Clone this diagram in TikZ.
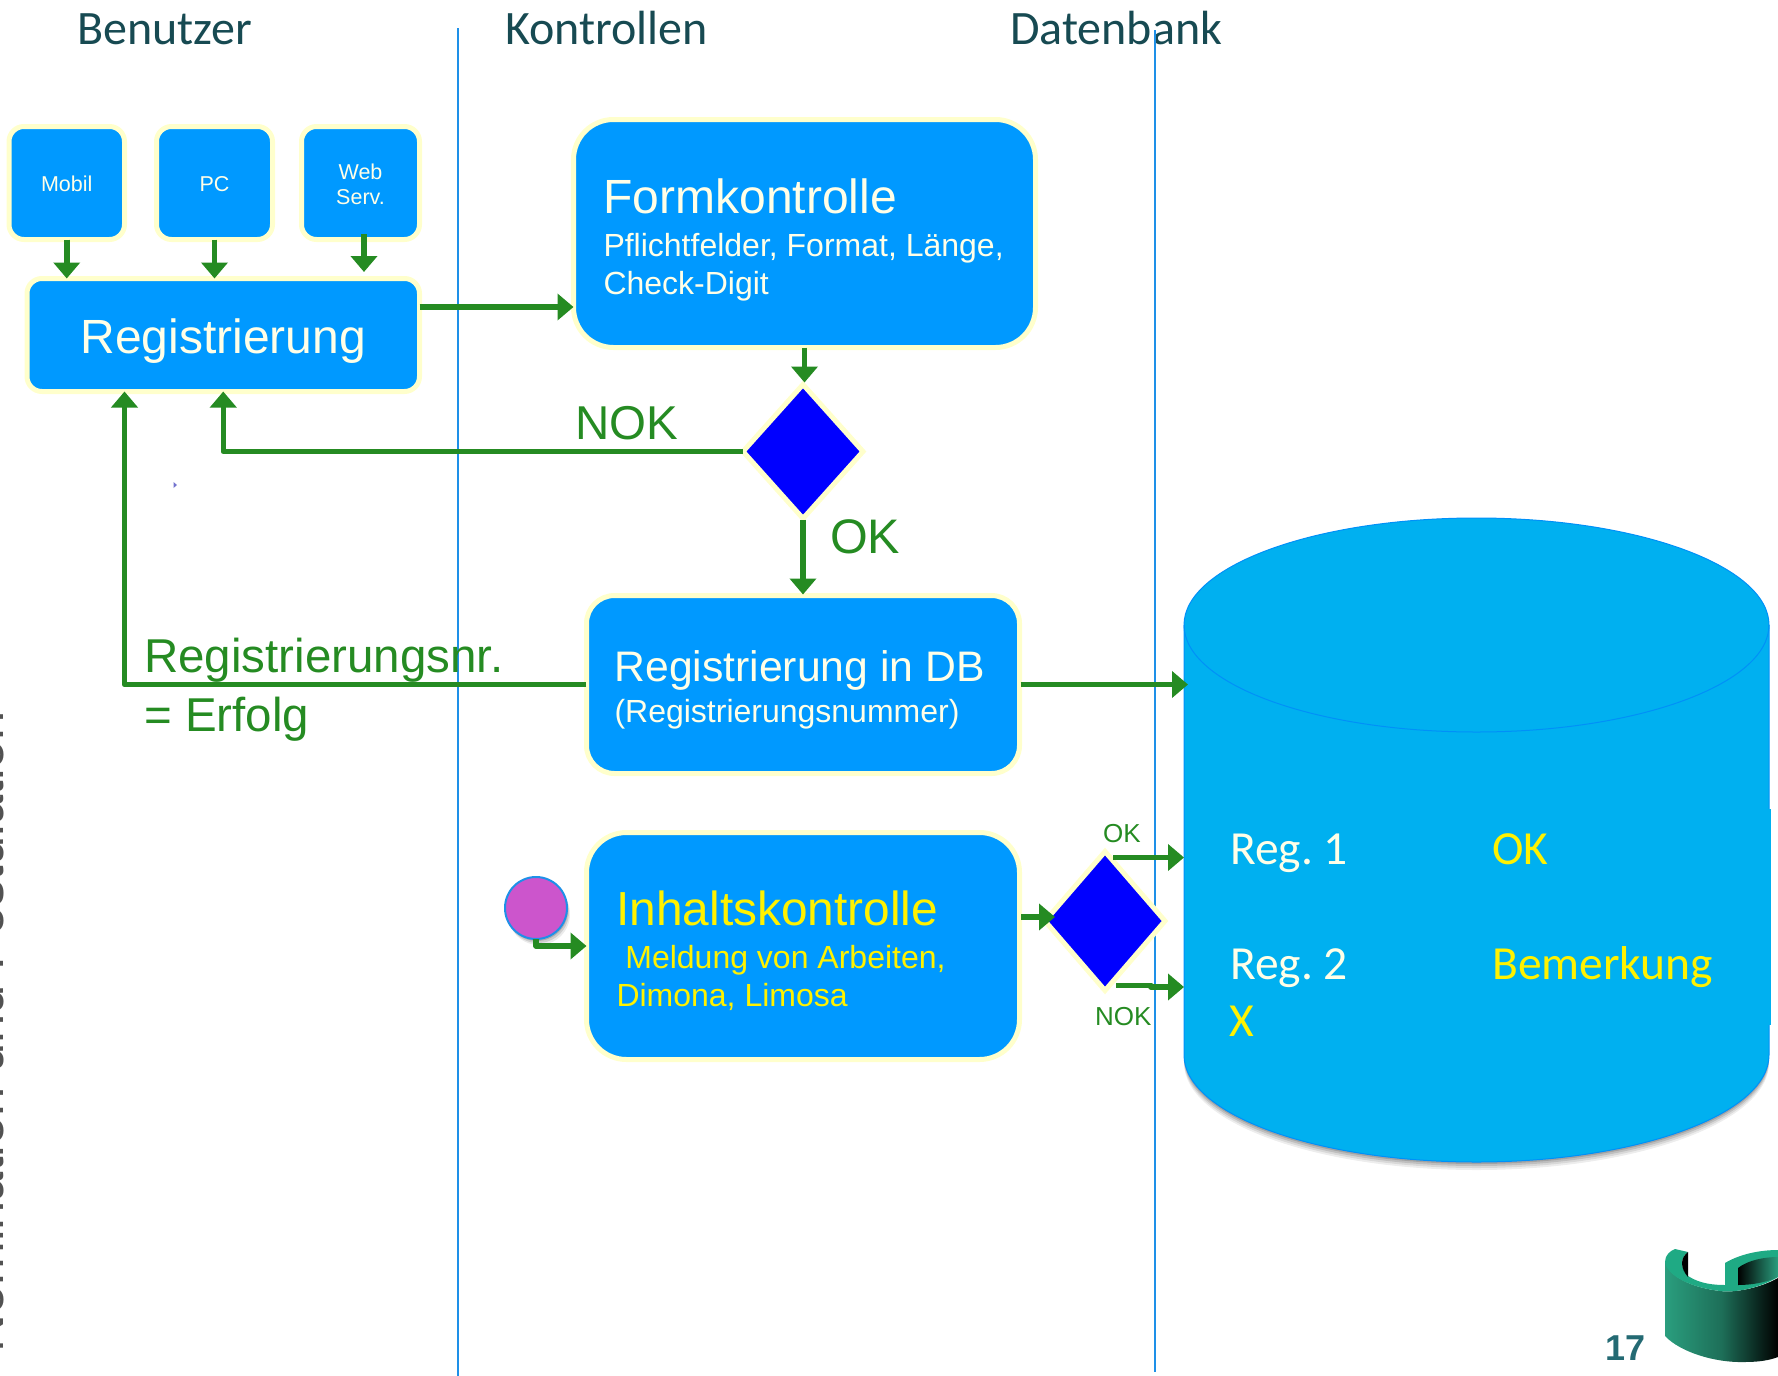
\documentclass[tikz,border=0pt]{standalone}
\usepackage{fontspec}
\setmainfont{Liberation Sans}
\newfontfamily\calib{Carlito}
\usetikzlibrary{arrows.meta,shapes.geometric}
\definecolor{boxblue}{HTML}{0099FF}
\definecolor{cream}{HTML}{FFFFCC}
\definecolor{softwhite}{HTML}{FFFFE8}
\definecolor{dbblue}{HTML}{00B0F0}
\definecolor{dbline}{HTML}{0090F8}
\definecolor{flow}{HTML}{258B22}
\definecolor{lane}{HTML}{1E90E8}
\definecolor{headteal}{HTML}{174A52}
\definecolor{pagenum}{HTML}{246A73}
\definecolor{dotfill}{HTML}{CC55CC}
\definecolor{logogreen}{HTML}{2A9E7E}
\definecolor{logolight}{HTML}{1FAA84}
\newcommand{\fs}[1]{\fontsize{#1}{#1}\selectfont\spaceskip=0pt\xspaceskip=0pt\frenchspacing}
\tikzset{
  bx/.style={rectangle,draw=cream,line width=5pt,fill=boxblue,inner sep=0pt,outer sep=0pt,text=softwhite,align=center},
  small box/.style={bx,rounded corners=15pt,minimum width=116pt,minimum height=113pt,font=\fs{21.5}},
  big box/.style={bx,align=left},
  decide/.style={diamond,draw=cream,line width=5pt,fill=blue,inner sep=0pt,outer sep=0pt},
  link/.style={draw=flow,line width=5.5pt,line join=round,-{Triangle[width=26pt,length=16pt]}},
  lane line/.style={draw=lane,line width=1.5pt},
  head/.style={anchor=base west,inner sep=0pt,font=\calib\fs{48},text=headteal},
  flowtext/.style={anchor=base west,inner sep=0pt,text=flow},
  dbtext/.style={anchor=base west,inner sep=0pt,font=\calib\fs{47.5}},
}
\begin{document}
\begin{tikzpicture}[x=1pt,y=-1pt]
\useasboundingbox (0,0) rectangle (1778,1376);
% rotated, cut-off side title
\node[rotate=90,anchor=base west,inner sep=0pt,text=black!68,font=\fs{52.5}] (sidetitle) at (3,1353) {Nomination und Postulation};
% swim lanes
\coordinate (laneAtop) at (458,28);
\coordinate (laneAbot) at (458,1376);
\coordinate (laneBtop) at (1155,30);
\coordinate (laneBbot) at (1155,1372);
\node[head] (hBen) at (77,44) {Benutzer};
\node[head] (hKon) at (505,44) {Kontrollen};
\node[head] (hDat) at (1010,44) {Datenbank};
\draw[lane line] (laneAtop) -- (laneAbot);
\draw[lane line] (laneBtop) -- (laneBbot);
% database cylinder
\node[minimum width=585pt,minimum height=645pt,inner sep=0pt,outer sep=0pt] (db) at (1476.5,840.5) {};
\foreach \o/\a in {8/0.07,6/0.09,4/0.12,2/0.15}
  \fill[black,opacity=\a] (1184,1055+\o) .. controls (1184,1114+\o) and (1315,1162+\o) .. (1476.5,1162+\o) .. controls (1638,1162+\o) and (1769,1114+\o) .. (1769,1055+\o) -- cycle;
\filldraw[draw=dbline,fill=dbblue,line width=1pt]
  (1184,625) .. controls (1184,566) and (1315,518) .. (1476.5,518) .. controls (1638,518) and (1769,566) .. (1769,625)
  -- (1769,1055) .. controls (1769,1114) and (1638,1162) .. (1476.5,1162) .. controls (1315,1162) and (1184,1114) .. (1184,1055) -- cycle;
\fill[dbblue] (1184.5,809) rectangle (1771,1025);
\draw[draw=dbline,line width=1pt] (1184,625) .. controls (1184,684) and (1315,732) .. (1476.5,732) .. controls (1638,732) and (1769,684) .. (1769,625);
\node[dbtext,text=softwhite] (r1) at (1230,864) {Reg. 1};
\node[dbtext,text=yellow] (r1s) at (1492,864) {OK};
\node[dbtext,text=softwhite] (r2) at (1230,979) {Reg. 2};
\node[dbtext,text=yellow] (r2s) at (1492,979) {Bemerkung};
\node[dbtext,text=yellow] (r2x) at (1229,1036) {X};
% input channels
\node[small box,minimum width=115.5pt] (mobil) at (66.75,183) {\rule{0pt}{18pt}Mobil};
\node[small box] (pc) at (214.5,183) {\rule{0pt}{18pt}PC};
\node[small box,minimum width=118pt] (web) at (360.5,183) {\rule{0pt}{18pt}Web\\[3pt]Serv.};
\node[bx,rounded corners=15pt,minimum width=392.5pt,minimum height=113pt,font=\fs{48}] (reg) at (223.25,335) {\rule{0pt}{46pt}Registrierung};
% control boxes
\node[big box,rounded corners=40pt,inner xsep=30pt,text width=402pt,minimum height=228pt] (form) at (804.5,233.5)
  {{\fs{48}\rule{0pt}{48pt}Formkontrolle}\\[17.5pt]{\fs{32}Pflichtfelder, Format, Länge,}\\[7.5pt]{\fs{32}Check-Digit}};
\node[big box,rounded corners=28pt,inner xsep=28pt,text width=377pt,minimum height=178pt] (store) at (803,684.5)
  {{\fs{42.7}\rule{0pt}{42.5pt}Registrierung in DB}\\[8pt]{\fs{32}(Registrierungsnummer)}};
\node[big box,rounded corners=40pt,inner xsep=30pt,text width=373pt,minimum height=227pt,text=yellow] (inh) at (803,946)
  {{\fs{47.8}\rule{0pt}{44pt}Inhaltskontrolle}\\[18.5pt]{\fs{32}\ Meldung von Arbeiten,}\\[6.5pt]{\fs{32}Dimona, Limosa}};
% decisions
\node[decide,minimum width=120pt,minimum height=134pt,aspect=0.89] (d1) at (803,451.5) {};
\node[decide,minimum width=120pt,minimum height=139pt,aspect=0.86] (d2) at (1105,921) {};
% labels
\node[flowtext,font=\fs{47.5}] (nok) at (575,439) {NOK};
\node[flowtext,font=\fs{48.5}] (ok) at (830,553) {OK};
\node[flowtext,font=\fs{47.5}] (nr) at (144,672) {Registrierungsnr.};
\node[flowtext,font=\fs{47.5}] (erf) at (144,731) {= Erfolg};
\node[flowtext,font=\fs{26}] (ok2) at (1103,842) {OK};
\node[flowtext,font=\fs{26}] (nok2) at (1095,1025) {NOK};
% connectors
\draw[link] (mobil.south) -- (mobil.south |- reg.north);
\draw[link] (pc.south) -- (pc.south |- reg.north);
\coordinate (webs) at ([xshift=3.5pt,yshift=5.5pt]web.south);
\draw[link,shorten >=6.5pt] (webs) -- (webs |- reg.north);
\coordinate (rf) at ([yshift=28pt]reg.east);
\draw[link] (rf) -- (rf -| form.west);
\draw[link,shorten >=2pt,shorten <=0pt] (form.south) -- (form.south |- d1.north);
\draw[link,shorten <=0pt] (d1.west) -| (reg.south);
\draw[link,shorten <=1pt,shorten >=1pt] (d1.south) -- (d1.south |- store.north);
\coordinate (regl) at ([xshift=-98.75pt]reg.south);
\draw[link,shorten <=0.5pt] (store.west) -| (regl);
\draw[link,shorten <=1pt,shorten >=-4pt] (store.east) -- (store.east -| db.west);
\coordinate (ie) at ([yshift=29pt]inh.east);
\draw[link,shorten <=1.5pt,shorten >=-10pt] (ie) -- (ie -| d2.west);
\coordinate (okst) at ([xshift=8pt,yshift=-6pt]d2.north);
\draw[link] (okst) -- (okst -| db.west);
\coordinate (nokst) at ([xshift=11pt,yshift=5pt]d2.south);
\coordinate (nokend) at (1184,987);
\draw[link] (nokst) -- ++(35,0) |- (nokend);
% start dot
\foreach \o/\a in {6/0.08,4/0.12,2/0.16}
  \fill[black,opacity=\a] (536+\o*0.5,908+\o) circle[radius=31];
\node[circle,draw=lane,line width=2pt,fill=dotfill,minimum size=62pt,inner sep=0pt,outer sep=0pt] (dot) at (536,908) {};
\draw[link] (dot.south) |- (inh.west);
% small mark
\fill[black!35!blue!55] (173.5,482) -- (177,485) -- (173.5,488) -- cycle;
% page number and logo
\node[anchor=base west,inner sep=0pt,font=\bfseries\fs{36},text=pagenum] (pg) at (1605,1360) {17};
\shade[left color=logogreen,right color=black,middle color=logogreen!70!black,shading angle=90]
  (1665,1260) -- (1665,1336) .. controls (1680,1352) and (1715,1363) .. (1745,1362) .. controls (1760,1362) and (1770,1360) .. (1778,1357) -- (1778,1278) .. controls (1760,1288) and (1735,1293) .. (1720,1291) .. controls (1695,1288) and (1668,1278) .. cycle;
\fill[logolight] (1665,1262) .. controls (1665,1255) and (1670,1251) .. (1675,1249) -- (1688,1252) .. controls (1680,1258) and (1680,1268) .. (1688,1276) .. controls (1700,1284) and (1715,1285) .. (1725,1285) -- (1725,1263) .. controls (1740,1254) and (1760,1250) .. (1778,1250) -- (1778,1277) .. controls (1760,1288) and (1735,1293) .. (1720,1291) .. controls (1695,1288) and (1668,1278) .. cycle;
\fill[black] (1688,1252) .. controls (1680,1258) and (1680,1268) .. (1688,1277) -- cycle;
\shade[left color=black,right color=logogreen] (1738,1268) .. controls (1748,1260) and (1765,1257) .. (1778,1257) -- (1778,1277) .. controls (1765,1283) and (1750,1285) .. (1738,1285) -- cycle;
\end{tikzpicture}
\end{document}
